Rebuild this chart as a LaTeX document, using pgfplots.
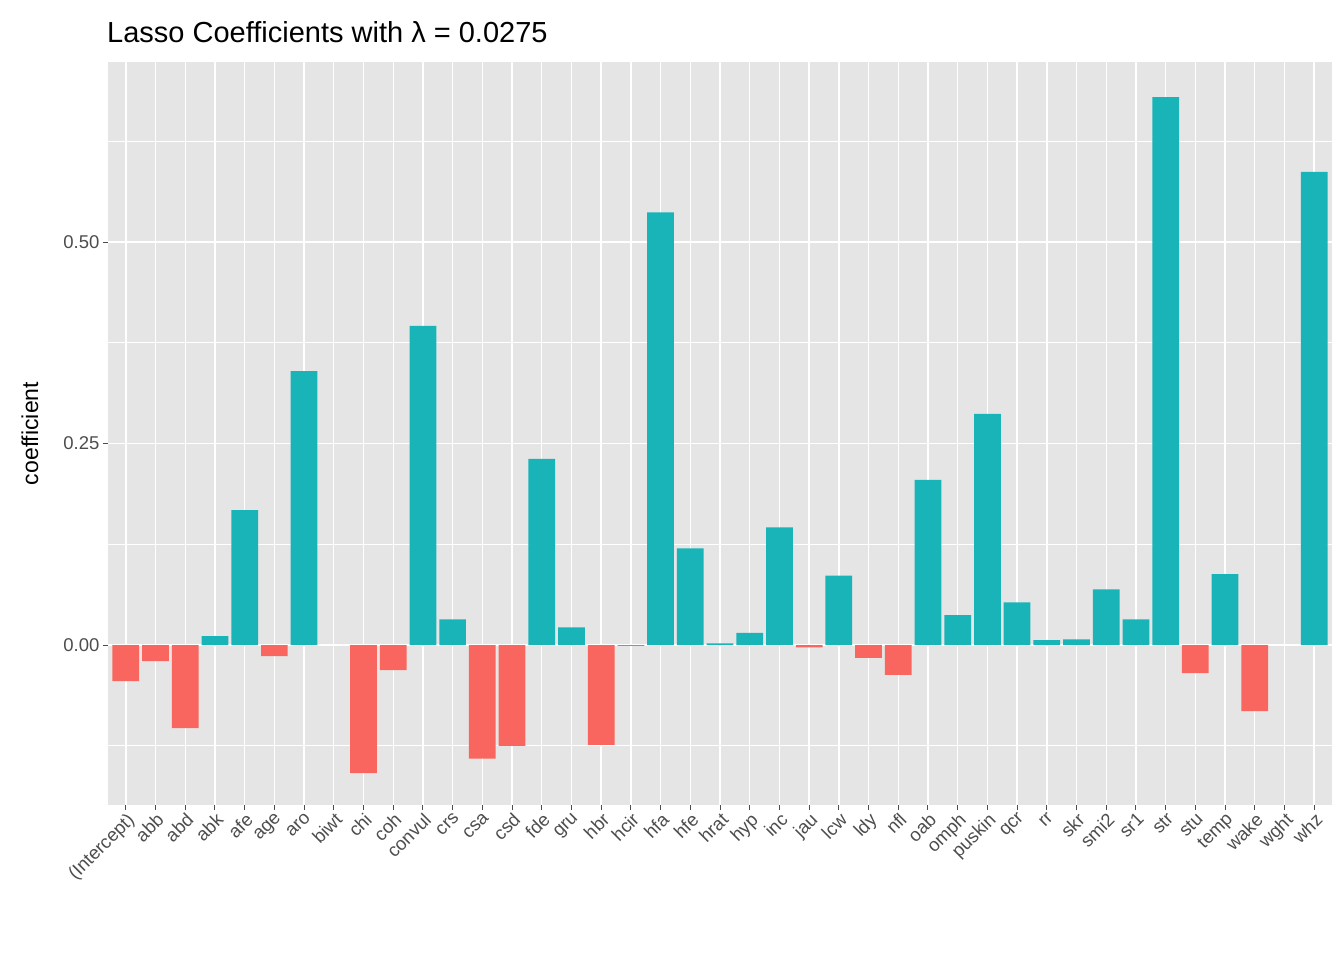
\documentclass[border=0pt]{standalone}
\usepackage{pgfplots}
\pgfplotsset{compat=1.18}
\usepackage{fontspec}
\setmainfont{Liberation Sans}
\definecolor{pos}{HTML}{19B4B8}
\definecolor{neg}{HTML}{F8665F}
\definecolor{bg}{HTML}{E5E5E5}
\definecolor{tk}{HTML}{4D4D4D}
\begin{document}
\begin{tikzpicture}
\begin{axis}[
  scale only axis, width=1224pt, height=743pt,
  xmin=-0.6, xmax=40.6, ymin=-0.1985, ymax=0.7235,
  axis background/.style={fill=bg},
  axis line style={draw=none},
  ybar, bar width=0.9, bar shift=0pt,
  xtick={0,...,40},
  xticklabels={(Intercept),abb,abd,abk,afe,age,aro,biwt,chi,coh,convul,crs,csa,csd,fde,gru,hbr,hcir,hfa,hfe,hrat,hyp,inc,jau,lcw,ldy,nfl,oab,omph,puskin,qcr,rr,skr,smi2,sr1,str,stu,temp,wake,wght,whz},
  xticklabel style={rotate=45, anchor=north east, font=\fontsize{18.5}{20}\selectfont, text=tk, inner sep=1pt},
  ytick={0,0.25,0.5}, yticklabels={0.00,0.25,0.50},
  minor ytick={-0.125,0.125,0.375,0.625},
  yticklabel style={font=\fontsize{18.5}{20}\selectfont, text=tk},
  tick style={draw=tk, line width=1pt}, major tick length=5pt, minor tick length=0pt,
  tick align=outside, xtick pos=bottom, ytick pos=left,
  grid=both, major grid style={white, line width=1.4pt}, minor grid style={white, line width=0.7pt},
]
\addplot[fill=pos, draw=none] coordinates {(3,0.011)(4,0.1675)(6,0.340)(10,0.396)(11,0.032)(14,0.231)(15,0.022)(18,0.537)(19,0.120)(20,0.002)(21,0.015)(22,0.146)(24,0.086)(27,0.205)(28,0.037)(29,0.287)(30,0.053)(31,0.006)(32,0.007)(33,0.069)(34,0.032)(35,0.680)(37,0.088)(40,0.587)};
\addplot[fill=neg, draw=none] coordinates {(0,-0.0447)(1,-0.020)(2,-0.103)(5,-0.0137)(8,-0.159)(9,-0.031)(12,-0.141)(13,-0.125)(16,-0.124)(17,-0.001)(23,-0.003)(25,-0.016)(26,-0.037)(36,-0.035)(38,-0.082)};
\end{axis}
\node[rotate=90, font=\fontsize{23}{26}\selectfont] at ([xshift=-78pt]current axis.west) {coefficient};
\node[anchor=base west, font=\fontsize{29}{32}\selectfont, inner sep=0pt] at ([xshift=-1pt,yshift=19pt]current axis.north west) {Lasso Coefficients with λ = 0.0275};
\path ([xshift=-108pt,yshift=-155pt]current axis.south west) rectangle ([xshift=12pt,yshift=62pt]current axis.north east);
\end{tikzpicture}
\end{document}
